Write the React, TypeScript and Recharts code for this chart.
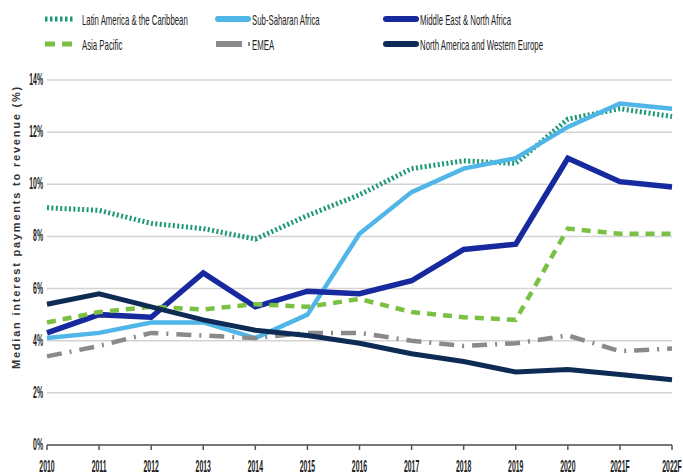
import React from 'react';
import { LineChart, Line, XAxis, YAxis, CartesianGrid } from 'recharts';

const years = ['2010', '2011', '2012', '2013', '2014', '2015', '2016', '2017', '2018', '2019', '2020', '2021F', '2022F'];

const latinAmerica = [9.1, 9.0, 8.5, 8.3, 7.9, 8.8, 9.6, 10.6, 10.9, 10.8, 12.5, 12.9, 12.6];
const subSaharan = [4.1, 4.3, 4.7, 4.7, 4.1, 5.0, 8.1, 9.7, 10.6, 11.0, 12.2, 13.1, 12.9];
const middleEast = [4.3, 5.0, 4.9, 6.6, 5.3, 5.9, 5.8, 6.3, 7.5, 7.7, 11.0, 10.1, 9.9];
const asiaPacific = [4.7, 5.1, 5.3, 5.2, 5.4, 5.3, 5.6, 5.1, 4.9, 4.8, 8.3, 8.1, 8.1];
const emea = [3.4, 3.8, 4.3, 4.2, 4.1, 4.3, 4.3, 4.0, 3.8, 3.9, 4.2, 3.6, 3.7];
const northAmerica = [5.4, 5.8, 5.3, 4.8, 4.4, 4.2, 3.9, 3.5, 3.2, 2.8, 2.9, 2.7, 2.5];

const yTicks = [0, 2, 4, 6, 8, 10, 12, 14];

const data = years.map((year, i) => ({
  year,
  latam: latinAmerica[i],
  ssa: subSaharan[i],
  mena: middleEast[i],
  apac: asiaPacific[i],
  emea: emea[i],
  nawe: northAmerica[i],
}));

const font = "'Liberation Sans', Arial, sans-serif";

const series = [
  { key: 'latam', name: 'Latin America & the Caribbean', color: '#1d9877', width: 5, dash: '2 2.4' },
  { key: 'ssa', name: 'Sub-Saharan Africa', color: '#50b6e8', width: 4.5, dash: undefined },
  { key: 'mena', name: 'Middle East & North Africa', color: '#17299e', width: 5.5, dash: undefined },
  { key: 'apac', name: 'Asia Pacific', color: '#7ac143', width: 4.5, dash: '9 7' },
  { key: 'emea', name: 'EMEA', color: '#8a8a8a', width: 4.5, dash: '15 8 2 8' },
  { key: 'nawe', name: 'North America and Western Europe', color: '#0d2b55', width: 5, dash: undefined },
];

const legendPos = [
  { x: 45, y: 19 },
  { x: 215, y: 19 },
  { x: 383, y: 19 },
  { x: 45, y: 44 },
  { x: 215, y: 44 },
  { x: 383, y: 44 },
];

function Swatch({ s }: { s: typeof series[number] }) {
  if (s.key === 'latam') {
    return (
      <svg width={30} height={8} style={{ display: 'block', marginRight: 7 }}>
        <line x1={0} y1={4} x2={29} y2={4} stroke={s.color} strokeWidth={5} strokeDasharray="2.5 2.5" />
      </svg>
    );
  }
  if (s.key === 'apac') {
    return (
      <svg width={30} height={8} style={{ display: 'block', marginRight: 7 }}>
        <line x1={0} y1={4} x2={28} y2={4} stroke={s.color} strokeWidth={5} strokeDasharray="10 7" />
      </svg>
    );
  }
  if (s.key === 'emea') {
    return (
      <svg width={37} height={8} style={{ display: 'block' }}>
        <line x1={1} y1={4} x2={27} y2={4} stroke={s.color} strokeWidth={6} />
        <line x1={33} y1={4} x2={35} y2={4} stroke={s.color} strokeWidth={4} />
      </svg>
    );
  }
  return (
    <svg width={37} height={8} style={{ display: 'block' }}>
      <line x1={3} y1={4} x2={33} y2={4} stroke={s.color} strokeWidth={6} strokeLinecap="round" />
    </svg>
  );
}

function XTick(props: any) {
  const { x, y, payload } = props;
  return (
    <text transform={`translate(${x},${y + 20}) scale(0.43,1)`} textAnchor="middle"
      style={{ fontFamily: font, fontSize: 16, fill: '#222', fontWeight: 'bold' }}>
      {payload.value}
    </text>
  );
}

function YTick(props: any) {
  const { x, y, payload } = props;
  return (
    <text transform={`translate(${x},${y + 5}) scale(0.43,1)`} textAnchor="end"
      style={{ fontFamily: font, fontSize: 16, fill: '#222', fontWeight: 'bold' }}>
      {`${payload.value}%`}
    </text>
  );
}

export default function App() {
  return (
    <div style={{ position: 'absolute', left: 0, top: 0, width: 683, height: 476, background: '#fff' }}>
      {series.map((s, i) => (
        <div key={s.key} style={{ position: 'absolute', left: legendPos[i].x, top: legendPos[i].y - 8, height: 16, display: 'flex', alignItems: 'center' }}>
          <Swatch s={s} />
          <span style={{ fontFamily: font, fontSize: 15, color: '#222', whiteSpace: 'nowrap', display: 'inline-block', transform: 'scaleX(0.52)', transformOrigin: 'left center' }}>{s.name}</span>
        </div>
      ))}
      <svg width={30} height={476} style={{ position: 'absolute', left: 0, top: 0 }}>
        <text x={17} y={227} transform="rotate(-90 17 227)" textAnchor="middle" dominantBaseline="middle"
          style={{ fontFamily: font, fontSize: 11, fill: '#333', letterSpacing: 1.8, fontWeight: 600 }}>
          Median interest payments to revenue (%)
        </text>
      </svg>
      <div style={{ position: 'absolute', left: 0, top: 0 }}>
        <LineChart width={683} height={476} data={data} margin={{ top: 80, right: 11, bottom: 0, left: 0 }}>
          <CartesianGrid vertical={false} stroke="#d3d3d3" strokeWidth={1.5} />
          <XAxis dataKey="year" interval={0} padding={{ left: 0, right: 0 }} height={31}
            stroke="#555" strokeWidth={1.5} tickSize={5} tickMargin={2} tick={<XTick />} />
          <YAxis domain={[0, 14]} ticks={yTicks} width={47} axisLine={false} tickLine={false}
            tickSize={0} tickMargin={4} tick={<YTick />} />
          {series.map((s) => (
            <Line key={s.key} type="linear" dataKey={s.key} name={s.name} stroke={s.color}
              strokeWidth={s.width} strokeDasharray={s.dash} dot={false} activeDot={false}
              isAnimationActive={false} />
          ))}
        </LineChart>
      </div>
    </div>
  );
}
